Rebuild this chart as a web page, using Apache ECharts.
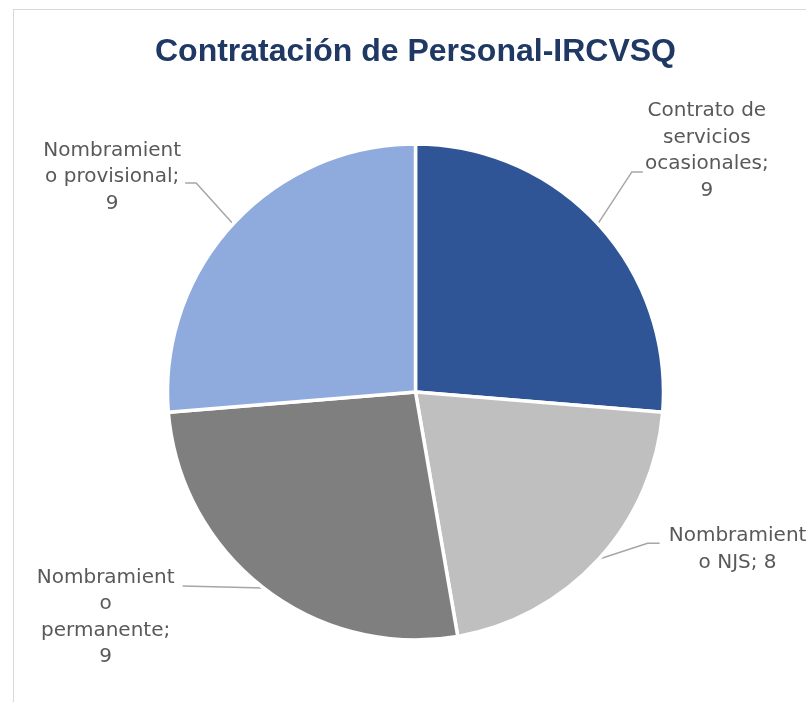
<!DOCTYPE html>
<html>
<head>
<meta charset="utf-8">
<script src="https://cdn.jsdelivr.net/npm/echarts@6/dist/echarts.min.js"></script>
<style>
  html, body { margin: 0; padding: 0; background: #fff; overflow: hidden; }
  #frame { position: absolute; left: 13px; top: 9px; width: 900px; height: 800px; border: 1px solid #d9d9d9; }
  #chart { position: absolute; left: 0; top: 0; width: 806px; height: 702px; }
</style>
</head>
<body>
<div id="frame"></div>
<div id="chart"></div>
<script>
// --- datos ---
const categories = ['Contrato de servicios ocasionales', 'Nombramiento NJS', 'Nombramiento permanente', 'Nombramiento provisional'];
// valores estimados por el tamaño de los sectores; la etiqueta los muestra redondeados
const values = [9.4, 7.5, 9.45, 9.4];
// texto de etiqueta partido como en el original (el valor se añade al final)
const labelText = ['Contrato de\nservicios\nocasionales;\n', 'Nombramient\no NJS; ', 'Nombramient\no\npermanente;\n', 'Nombramient\no provisional;\n'];
const colors = ['#2F5597', '#BFBFBF', '#7F7F7F', '#8FAADC'];

// desplazamientos de etiqueta y línea guía respecto al borde del sector
const labelShift = [
  { cx: 109, cy: -73, bend: [34, -52], end: [45, -52] },
  { cx: 139, cy: -10, bend: [49, -16], end: [61, -16] },
  { cx: -158, cy: 29, bend: [-40, -1], end: [-81, -2] },
  { cx: -121, cy: -47, bend: [-37, -41], end: [-48, -41] }
];

const myChart = echarts.init(document.getElementById('chart'), null, { renderer: 'canvas' });

const option = {
  backgroundColor: 'transparent',
  animation: false,
  title: {
    text: 'Contratación de Personal-IRCVSQ',
    left: 150,
    top: 31,
    textStyle: { fontFamily: 'Liberation Sans', fontWeight: 'bold', fontSize: 32, color: '#1F3864' }
  },
  series: [{
    type: 'pie',
    center: [415.5, 392],
    radius: 248,
    startAngle: 90,
    clockwise: true,
    avoidLabelOverlap: false,
    itemStyle: { borderColor: '#ffffff', borderWidth: 3.5 },
    label: {
      show: true,
      position: 'outside',
      fontFamily: 'DejaVu Sans',
      fontSize: 20,
      lineHeight: 26.5,
      color: '#595959',
      formatter: p => labelText[p.dataIndex] + Math.round(p.value)
    },
    labelLine: { show: true, length: 30, length2: 10, lineStyle: { color: '#A6A6A6', width: 1.5 } },
    labelLayout: function (p) {
      const s = labelShift[p.dataIndex];
      const o = p.labelLinePoints[0];
      return {
        x: o[0] + s.cx,
        y: o[1] + s.cy,
        align: 'center',
        verticalAlign: 'middle',
        labelLinePoints: [
          [o[0], o[1]],
          [o[0] + s.bend[0], o[1] + s.bend[1]],
          [o[0] + s.end[0], o[1] + s.end[1]]
        ]
      };
    },
    emphasis: { disabled: true },
    data: categories.map((c, i) => ({ name: c, value: values[i], itemStyle: { color: colors[i] } }))
  }]
};

myChart.setOption(option);
window.addEventListener('resize', () => myChart.resize());
</script>
</body>
</html>
